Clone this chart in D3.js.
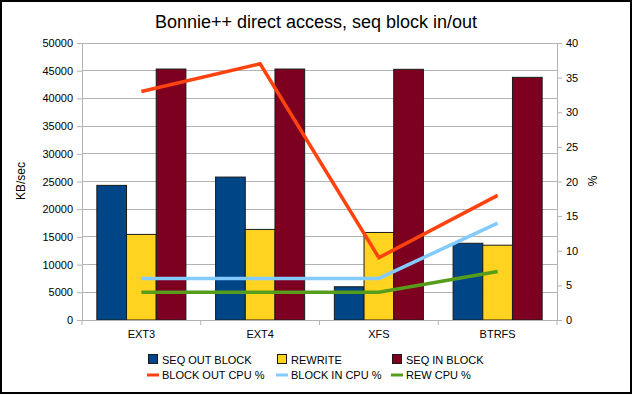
<!DOCTYPE html>
<html><head><meta charset="utf-8">
<script src="https://cdn.jsdelivr.net/npm/d3@7"></script>
<style>body{margin:0;background:#fff}svg{display:block;font-family:"Liberation Sans",Arial,sans-serif}</style>
</head><body><svg id="c" width="633" height="397"></svg>
<script>
const categories = ["EXT3","EXT4","XFS","BTRFS"];
const seqOutBlock = [24300, 25800, 6000, 13850];
const rewrite = [15450, 16350, 15800, 13500];
const seqInBlock = [45300, 45300, 45250, 43800];
const blockOutCpu = [33, 37, 9, 18];
const blockInCpu = [6, 6, 6, 14];
const rewCpu = [4, 4, 4, 7];
const leftTicks = [0,5000,10000,15000,20000,25000,30000,35000,40000,45000,50000];
const rightTicks = [0,5,10,15,20,25,30,35,40];

const barSeries = [
  {name:"SEQ OUT BLOCK", values:seqOutBlock, color:"#004586"},
  {name:"REWRITE", values:rewrite, color:"#ffd320"},
  {name:"SEQ IN BLOCK", values:seqInBlock, color:"#7e0021"}
];
const lineSeries = [
  {name:"BLOCK OUT CPU %", values:blockOutCpu, color:"#ff420e"},
  {name:"BLOCK IN CPU %", values:blockInCpu, color:"#83caff"},
  {name:"REW CPU %", values:rewCpu, color:"#579d1c"}
];

const svg = d3.select("#c");
const L=82, R=557, T=43, B=320;
svg.append("rect").attr("x",1).attr("y",1).attr("width",630).attr("height",392)
  .attr("fill","#fff").attr("stroke","#000").attr("stroke-width",2);

const x = d3.scaleBand().domain(categories).range([L,R]);
const xi = d3.scaleBand().domain(barSeries.map(d=>d.name)).range([0,x.bandwidth()]).paddingOuter(0.5);
const y = d3.scaleLinear().domain([0,50000]).range([B,T]);
const y2 = d3.scaleLinear().domain([0,40]).range([B,T]);

// gridlines
svg.append("g").selectAll("line").data(leftTicks).join("line")
  .attr("x1",L).attr("x2",R).attr("y1",d=>y(d)).attr("y2",d=>y(d))
  .attr("stroke","#b3b3b3").attr("stroke-width",1).attr("shape-rendering","crispEdges");

// bars
const g = svg.append("g");
barSeries.forEach(s=>{
  g.append("g").selectAll("rect").data(categories).join("rect")
   .attr("x",(c)=>x(c)+xi(s.name)).attr("width",xi.bandwidth())
   .attr("y",(c,i)=>y(s.values[i])).attr("height",(c,i)=>B-y(s.values[i]))
   .attr("fill",s.color).attr("stroke","#1a1a1a").attr("stroke-width",1);
});

// axes
const axL = svg.append("g").attr("transform",`translate(${L},0)`)
  .call(d3.axisLeft(y).tickValues(leftTicks).tickSize(5).tickPadding(4).tickFormat(d3.format("d")));
const axR = svg.append("g").attr("transform",`translate(${R},0)`)
  .call(d3.axisRight(y2).tickValues(rightTicks).tickSize(5).tickPadding(4));
const axB = svg.append("g").attr("transform",`translate(0,${B})`)
  .call(d3.axisBottom(x).tickSize(0).tickPadding(10));
[axL,axR,axB].forEach(a=>{
  a.selectAll(".domain").attr("stroke","#b3b3b3");
  a.selectAll(".tick line").attr("stroke","#b3b3b3");
  a.selectAll("text").attr("fill","#000").style("font-size","11px").style("font-family","'Liberation Sans',Arial,sans-serif");
});
// category separator ticks
svg.append("g").selectAll("line").data(categories.concat(["_end"])).join("line")
  .attr("x1",(c,i)=>i<categories.length?x(c):R).attr("x2",(c,i)=>i<categories.length?x(c):R)
  .attr("y1",B).attr("y2",B+5).attr("stroke","#b3b3b3");

// lines
const lineGen = d3.line().x((d,i)=>x(categories[i])+x.bandwidth()/2).y(d=>y2(d));
lineSeries.forEach(s=>{
  svg.append("path").datum(s.values).attr("d",lineGen)
   .attr("fill","none").attr("stroke",s.color).attr("stroke-width",3.5);
});

// titles
svg.append("text").attr("x",316).attr("y",28).attr("text-anchor","middle")
  .style("font-size","18px").text("Bonnie++ direct access, seq block in/out");
svg.append("text").attr("transform","translate(25,181) rotate(-90)").attr("text-anchor","middle")
  .style("font-size","12px").text("KB/sec");
svg.append("text").attr("transform","translate(597,181) rotate(-90)").attr("text-anchor","middle")
  .style("font-size","12px").text("%");

// legend
const colX = [148, 277, 392];
const leg = svg.append("g").style("font-size","11px");
barSeries.forEach((s,i)=>{
  leg.append("rect").attr("x",colX[i]+0.5).attr("y",354.5).attr("width",9).attr("height",9)
    .attr("fill",s.color).attr("stroke","#1a1a1a");
  leg.append("text").attr("x",colX[i]+14).attr("y",364).text(s.name);
});
lineSeries.forEach((s,i)=>{
  leg.append("line").attr("x1",colX[i]-1).attr("x2",colX[i]+11).attr("y1",375).attr("y2",375)
    .attr("stroke",s.color).attr("stroke-width",3);
  leg.append("text").attr("x",colX[i]+14).attr("y",379).text(s.name);
});
</script></body></html>
